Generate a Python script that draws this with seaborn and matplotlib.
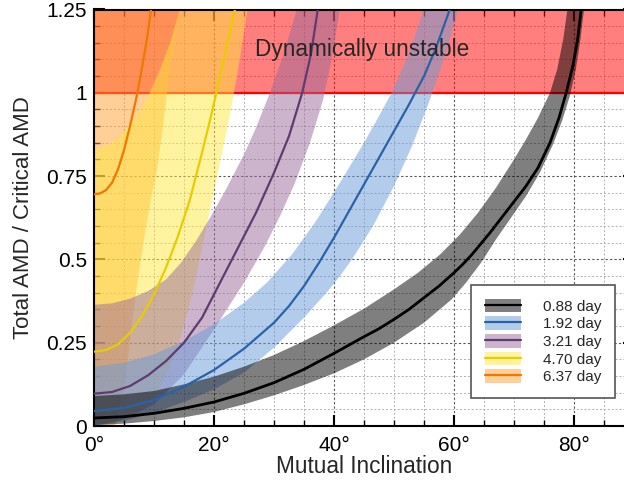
import matplotlib
matplotlib.use("Agg")
import matplotlib.pyplot as plt
import seaborn as sns
from matplotlib.patches import Patch
from matplotlib.lines import Line2D
from matplotlib.ticker import MultipleLocator, FixedLocator, FixedFormatter

# ---------------- data ----------------
labels = ["0.88 day", "1.92 day", "3.21 day", "4.70 day", "6.37 day"]
line_colors = ["#000000", "#2a62a8", "#5e3c70", "#e8cc00", "#f07800"]
band_colors = ["#000000", "#6a9bd8", "#9a6a9a", "#ffe840", "#ffa030"]

# 0.88 day
p1_line_x = [0, 5, 10, 15, 20, 25, 30, 35, 40, 45, 47.5, 50, 52.5, 55, 57.5, 60, 61.5, 63, 66, 69, 72, 74, 76, 77.5, 78.7, 79.8, 80.6, 81.2, 81.7]
p1_line_y = [0.024, 0.028, 0.038, 0.053, 0.072, 0.098, 0.13, 0.17, 0.218, 0.268, 0.292, 0.32, 0.35, 0.385, 0.42, 0.46, 0.486, 0.515, 0.58, 0.65, 0.72, 0.775, 0.85, 0.925, 1.0, 1.08, 1.16, 1.25, 1.33]
p1_up_x = [0, 5, 10, 15, 20, 25, 30, 35, 40, 45, 50, 54, 57.7, 61, 64, 67, 70, 72, 74, 76, 77.2, 78.2, 78.9, 79.5]
p1_up_y = [0.09, 0.095, 0.105, 0.125, 0.148, 0.178, 0.213, 0.255, 0.302, 0.352, 0.41, 0.46, 0.515, 0.575, 0.64, 0.715, 0.8, 0.86, 0.925, 1.0, 1.07, 1.16, 1.25, 1.33]
p1_lo_x = [0, 5, 10, 15, 20, 25, 30, 35, 40, 45, 50, 55, 59.6, 62, 64.5, 67, 69.5, 72, 74.3, 76.5, 78, 79.3, 80.3, 81, 81.6, 82.1]
p1_lo_y = [0.003, 0.007, 0.015, 0.026, 0.042, 0.065, 0.092, 0.123, 0.158, 0.2, 0.25, 0.31, 0.38, 0.43, 0.49, 0.56, 0.625, 0.69, 0.76, 0.845, 0.915, 0.99, 1.07, 1.15, 1.24, 1.33]

# 1.92 day
p2_line_x = [0, 5, 10, 15, 20, 25, 30, 32.5, 35, 37.5, 40, 42.5, 45, 47.5, 50, 52.5, 55, 57, 59.3, 60.5]
p2_line_y = [0.045, 0.054, 0.078, 0.118, 0.168, 0.232, 0.31, 0.36, 0.42, 0.49, 0.565, 0.645, 0.725, 0.805, 0.885, 0.965, 1.05, 1.135, 1.25, 1.31]
p2_up_x = [0, 5, 10, 15, 20, 25, 28.8, 33, 37, 41.5, 45, 47.5, 49.6, 52.5, 55, 56]
p2_up_y = [0.178, 0.19, 0.215, 0.255, 0.305, 0.37, 0.43, 0.515, 0.615, 0.745, 0.85, 0.93, 1.0, 1.12, 1.25, 1.31]
p2_lo_x = [0, 5, 10, 15, 20, 25, 30, 35, 39, 41, 43, 46.5, 50, 53, 55.8, 58.3, 60.4, 61.3]
p2_lo_y = [0.0, 0.015, 0.04, 0.072, 0.11, 0.16, 0.235, 0.325, 0.405, 0.45, 0.5, 0.6, 0.72, 0.84, 0.97, 1.1, 1.23, 1.3]

# 3.21 day
p3_line_x = [0, 3, 6, 9, 12, 15, 18, 21, 24, 27, 30, 32.5, 34.7, 36.2, 37.3, 37.8]
p3_line_y = [0.097, 0.102, 0.12, 0.152, 0.195, 0.25, 0.325, 0.43, 0.535, 0.64, 0.76, 0.87, 1.0, 1.12, 1.25, 1.31]
p3_up_x = [0, 3, 6, 9, 12, 14.5, 17, 19.5, 22, 25, 27, 29, 31.5, 33.8, 34.6]
p3_up_y = [0.364, 0.368, 0.382, 0.405, 0.44, 0.49, 0.555, 0.63, 0.71, 0.815, 0.895, 0.985, 1.11, 1.25, 1.31]
p3_lo_x = [0, 5, 10, 15, 20, 25, 28.5, 31, 33.5, 36, 38.2, 39.6, 40.7, 41.4]
p3_lo_y = [0.0, 0.02, 0.065, 0.155, 0.29, 0.43, 0.54, 0.63, 0.73, 0.85, 0.98, 1.1, 1.22, 1.3]

# 4.70 day
p4_line_x = [0, 2, 4, 6, 8, 10, 12, 14, 16, 18, 19.5, 20.4, 21.5, 22.6, 23.5, 24.2]
p4_line_y = [0.223, 0.228, 0.245, 0.28, 0.33, 0.395, 0.475, 0.57, 0.68, 0.82, 0.93, 1.0, 1.09, 1.18, 1.25, 1.31]
p4_up_x = [0, 2, 4, 6, 8, 9.3, 11, 12.7, 14.3, 15.2]
p4_up_y = [0.83, 0.84, 0.865, 0.905, 0.955, 1.0, 1.07, 1.15, 1.25, 1.31]
p4_lo_x = [0, 5, 8, 10.5, 12.5, 14.5, 16, 17.5, 19, 20.3, 21.7, 23.2, 24.3, 25.4, 26.1]
p4_lo_y = [0.0, 0.02, 0.05, 0.1, 0.17, 0.27, 0.37, 0.49, 0.62, 0.73, 0.85, 0.985, 1.1, 1.23, 1.31]

# 6.37 day
p5_line_x = [0, 1, 2, 3, 4, 5, 6, 7, 7.5, 8.2, 8.9, 9.5, 10]
p5_line_y = [0.695, 0.698, 0.708, 0.73, 0.77, 0.828, 0.9, 0.98, 1.025, 1.095, 1.17, 1.25, 1.32]
p5_up_x = [0]
p5_up_y = [1.4]
p5_lo_x = [3.5, 4.2, 4.9, 5.5, 6.2, 7.3, 8.5, 9.6, 10.4, 11.3, 12.1, 12.7, 13.5, 14.3, 14.9]
p5_lo_y = [0.0, 0.05, 0.1, 0.18, 0.29, 0.44, 0.58, 0.69, 0.76, 0.87, 0.99, 1.07, 1.16, 1.25, 1.32]

x_ticks = [0, 20, 40, 60, 80]
x_ticklabels = ["0°", "20°", "40°", "60°", "80°"]
y_ticks = [0, 0.25, 0.5, 0.75, 1.0, 1.25]
y_ticklabels = ["0", "0.25", "0.5", "0.75", "1", "1.25"]
unstable_level = 1.0

series = [
    (p1_line_x, p1_line_y, p1_up_x, p1_up_y, p1_lo_x, p1_lo_y),
    (p2_line_x, p2_line_y, p2_up_x, p2_up_y, p2_lo_x, p2_lo_y),
    (p3_line_x, p3_line_y, p3_up_x, p3_up_y, p3_lo_x, p3_lo_y),
    (p4_line_x, p4_line_y, p4_up_x, p4_up_y, p4_lo_x, p4_lo_y),
    (p5_line_x, p5_line_y, p5_up_x, p5_up_y, p5_lo_x, p5_lo_y),
]

# ---------------- figure ----------------
sns.set_style("ticks")
plt.rcParams["font.family"] = ["Liberation Sans", "DejaVu Sans"]

fig = plt.figure(figsize=(6.24, 4.83), dpi=100)
ax = fig.add_axes([94 / 624, 1 - 426 / 483, 540 / 624, (426 - 9.5) / 483])

ax.set_xlim(0, 90)
ax.set_ylim(0, 1.25)

# unstable region
ax.axhspan(unstable_level, 2.0, color="#ff0000", alpha=0.5, lw=0, zorder=0.8)
ax.axhline(unstable_level, color="#ff0000", lw=1.6, zorder=0.9)

# bands (outermost period first so the 0.88 day band is on top)
for i in reversed(range(len(series))):
    lx, ly, ux, uy, ox, oy = series[i]
    verts = list(zip(ux, uy)) + list(zip(ox, oy))[::-1] + [(0, 0)]
    vx = [v[0] for v in verts]
    vy = [v[1] for v in verts]
    ax.fill(vx, vy, color=band_colors[i], alpha=0.5, lw=0, zorder=1 + (4 - i) * 0.01)

# central curves
for i in reversed(range(len(series))):
    lx, ly = series[i][0], series[i][1]
    sns.lineplot(x=lx, y=ly, color=line_colors[i], lw=2.0 if i == 0 else 1.6,
                 ax=ax, estimator=None, sort=False, legend=False, zorder=3)

ax.text(44.7, 1.13, "Dynamically unstable", ha="center", va="center", fontsize=16.3)

# ticks and grid
ax.xaxis.set_major_locator(FixedLocator(x_ticks))
ax.xaxis.set_major_formatter(FixedFormatter(x_ticklabels))
ax.yaxis.set_major_locator(FixedLocator(y_ticks))
ax.yaxis.set_major_formatter(FixedFormatter(y_ticklabels))
ax.xaxis.set_minor_locator(MultipleLocator(5))
ax.yaxis.set_minor_locator(MultipleLocator(0.05))
ax.tick_params(which="both", direction="in", top=True, right=True, labelsize=15, colors="black")
ax.tick_params(which="major", length=8, width=1.5)
ax.tick_params(which="minor", length=4.5, width=1.0)
ax.tick_params(axis="x", which="major", pad=7)
ax.tick_params(axis="y", which="major", pad=5)
ax.grid(which="major", color="#555555", linestyle=(0, (2, 2)), lw=0.8)
ax.grid(which="minor", color="#b0b0b0", linestyle=(0, (2, 2)), lw=0.7)
ax.set_axisbelow(True)
for s in ax.spines.values():
    s.set_linewidth(1.5)
    s.set_color("black")

ax.set_xlabel("Mutual Inclination", fontsize=16.3, labelpad=0)
ax.set_ylabel("Total AMD / Critical AMD", fontsize=16, labelpad=9)

handles = [
    (Patch(facecolor=band_colors[i], alpha=0.5, edgecolor="none"),
     Line2D([], [], color=line_colors[i], lw=1.6))
    for i in range(len(series))
]
leg = ax.legend(handles, labels, loc="lower right",
                bbox_to_anchor=(615 / 624, 1 - 398 / 483), bbox_transform=fig.transFigure,
                borderaxespad=0, fontsize=11, frameon=True, fancybox=False,
                framealpha=1, edgecolor="#555555", handlelength=2.4, handleheight=1.0,
                handletextpad=1.4, labelspacing=0.17, borderpad=0.9)
leg.get_frame().set_linewidth(1.2)
leg.set_zorder(5)

fig.savefig("out.png", dpi=100)
